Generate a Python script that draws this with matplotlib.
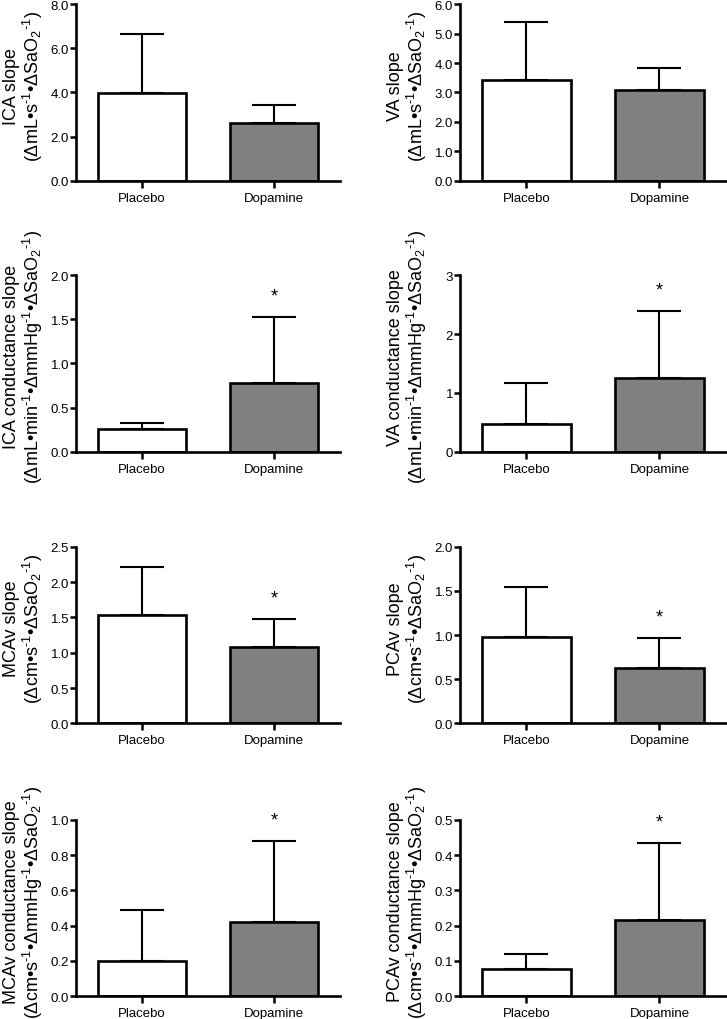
import numpy as np
import matplotlib
matplotlib.use("Agg")
import matplotlib.pyplot as plt
from matplotlib.ticker import FormatStrFormatter

plt.rcParams['font.family'] = ['Liberation Sans', 'DejaVu Sans']
plt.rcParams['mathtext.fontset'] = 'custom'
plt.rcParams['mathtext.rm'] = 'Liberation Sans'
plt.rcParams['mathtext.it'] = 'Liberation Sans'
plt.rcParams['mathtext.default'] = 'regular'

grupos = ["Placebo", "Dopamine"]

# medias y desvios (solo hacia arriba)
ica_slope = [3.96, 2.61]
ica_slope_sd = [2.68, 0.80]
va_slope = [3.42, 3.08]
va_slope_sd = [1.96, 0.75]
ica_cond = [0.26, 0.78]
ica_cond_sd = [0.07, 0.75]
va_cond = [0.47, 1.26]
va_cond_sd = [0.69, 1.14]
mcav_slope = [1.53, 1.08]
mcav_slope_sd = [0.69, 0.40]
pcav_slope = [0.98, 0.63]
pcav_slope_sd = [0.57, 0.34]
mcav_cond = [0.20, 0.42]
mcav_cond_sd = [0.29, 0.46]
pcav_cond = [0.078, 0.217]
pcav_cond_sd = [0.042, 0.217]

m1 = r"$^{\text{-1}}$"
unid_flujo = r"($\Delta$mL•s" + m1 + r"•$\Delta$SaO$_2$" + m1 + ")"
unid_cond_flujo = r"($\Delta$mL•min" + m1 + r"•$\Delta$mmHg" + m1 + r"•$\Delta$SaO$_2$" + m1 + ")"
unid_vel = r"($\Delta$cm•s" + m1 + r"•$\Delta$SaO$_2$" + m1 + ")"
unid_cond_vel = r"($\Delta$cm•s" + m1 + r"•$\Delta$mmHg" + m1 + r"•$\Delta$SaO$_2$" + m1 + ")"

paneles = [
    ("ICA slope", unid_flujo, ica_slope, ica_slope_sd, 8.0, 2.0, "%.1f", False),
    ("VA slope", unid_flujo, va_slope, va_slope_sd, 6.0, 1.0, "%.1f", False),
    ("ICA conductance slope", unid_cond_flujo, ica_cond, ica_cond_sd, 2.0, 0.5, "%.1f", True),
    ("VA conductance slope", unid_cond_flujo, va_cond, va_cond_sd, 3.0, 1.0, "%d", True),
    ("MCAv slope", unid_vel, mcav_slope, mcav_slope_sd, 2.5, 0.5, "%.1f", True),
    ("PCAv slope", unid_vel, pcav_slope, pcav_slope_sd, 2.0, 0.5, "%.1f", True),
    ("MCAv conductance slope", unid_cond_vel, mcav_cond, mcav_cond_sd, 1.0, 0.2, "%.1f", True),
    ("PCAv conductance slope", unid_cond_vel, pcav_cond, pcav_cond_sd, 0.5, 0.1, "%.1f", True),
]

fig = plt.figure(figsize=(7.27, 10.20), dpi=100)

filas_bottom = [0.8219, 0.5562, 0.2899, 0.0223]
alto = 0.1730
col_left = [0.1045, 0.6327]
col_ancho = [0.3631, 0.3659]

x = np.arange(len(grupos))
for i, (nombre, unidad, medias, sds, ymax, paso, fmt, signif) in enumerate(paneles):
    fila, col = i // 2, i % 2
    ax = fig.add_axes([col_left[col], filas_bottom[fila], col_ancho[col], alto])
    ax.bar(x, medias, width=0.665, color=["white", "#808080"],
           edgecolor="black", linewidth=1.9, zorder=2)
    ax.errorbar(x, medias, yerr=[np.zeros(len(sds)), sds], fmt="none",
                ecolor="black", elinewidth=1.5, capsize=16, capthick=1.5, zorder=1)
    if signif:
        ax.annotate("*", xy=(x[1], medias[1] + sds[1]), xytext=(0, 15),
                    textcoords="offset points", ha="center", va="center",
                    fontsize=13, annotation_clip=False)
    ax.set_xlim(-0.5, 1.5)
    ax.set_ylim(0, ymax)
    ax.set_yticks(np.arange(0, ymax + paso / 2, paso))
    ax.yaxis.set_major_formatter(FormatStrFormatter(fmt))
    ax.set_xticks(x)
    ax.set_xticklabels(grupos, fontsize=9.5)
    ax.tick_params(axis="y", labelsize=9.5, width=1.8, length=4, pad=1)
    ax.tick_params(axis="x", width=1.8, length=5, pad=3)
    for lado in ["top", "right"]:
        ax.spines[lado].set_visible(False)
    for lado in ["left", "bottom"]:
        ax.spines[lado].set_linewidth(1.9)
    ax.set_ylabel(nombre + "\n" + unidad, fontsize=13, linespacing=1.05)
    ax.yaxis.set_label_coords(-0.118, 0.54)

fig.savefig("out.png", dpi=100)
